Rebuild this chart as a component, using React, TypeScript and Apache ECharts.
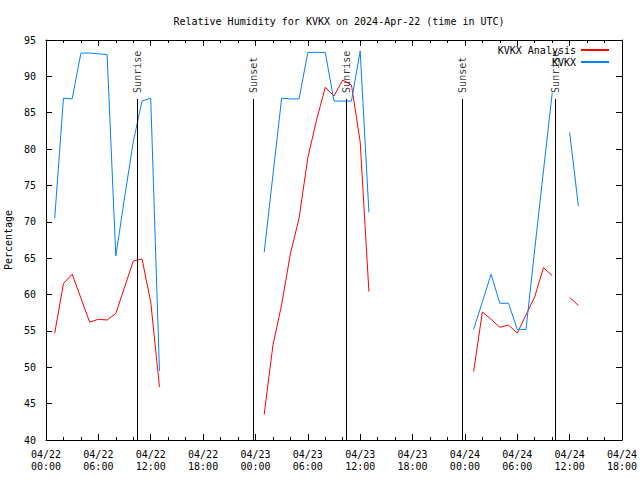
import React, { useEffect, useRef } from "react";
import * as echarts from "echarts";

// Hours after 2024-04-22 00:00 UTC at which each data segment starts
const segmentStarts = [1, 25, 49, 60];

const analysisSegments = [
  [54.7, 61.5, 62.8, 59.5, 56.2, 56.6, 56.5, 57.4, 61.0, 64.6, 64.9, 59.0, 47.3],
  [43.5, 53.0, 58.6, 65.6, 70.5, 78.8, 84.0, 88.5, 87.3, 89.5, 88.8, 81.0, 60.4],
  [49.4, 57.6, 56.6, 55.5, 55.8, 54.7, 57.2, 59.7, 63.7, 62.6],
  [59.6, 58.5],
];

const observedSegments = [
  [70.5, 87.0, 86.9, 93.2, 93.2, 93.1, 93.0, 65.3, 73.3, 81.0, 86.6, 87.0, 49.5],
  [65.8, 76.4, 87.0, 86.9, 86.9, 93.3, 93.3, 93.3, 86.6, 86.6, 86.6, 93.5, 71.3],
  [55.2, 59.0, 62.8, 58.8, 58.8, 55.2, 55.2, 66.2, 77.0, 87.7],
  [82.3, 72.2],
];

const eventNames = ["Sunrise", "Sunset", "Sunrise", "Sunset", "Sunrise"];
const eventHours = [10.43, 23.77, 34.44, 47.74, 58.4];
const eventTop = 86.9;

const tickDates = ["04/22", "04/22", "04/22", "04/22", "04/23", "04/23", "04/23", "04/23", "04/24", "04/24", "04/24", "04/24"];
const tickTimes = ["00:00", "06:00", "12:00", "18:00", "00:00", "06:00", "12:00", "18:00", "00:00", "06:00", "12:00", "18:00"];

const FONT = "DejaVu Sans Mono";

export default function App() {
  const ref = useRef<HTMLDivElement>(null);
  useEffect(() => {
    if (!ref.current) return;
    const chart = echarts.init(ref.current, undefined, { renderer: "svg" });

    const mkSeries = (name: string, segs: number[][], color: string) =>
      segs.map((seg, si) => ({
        name,
        type: "line",
        data: seg.map((v, i) => [segmentStarts[si] + i, v]),
        showSymbol: false,
        symbol: "none",
        lineStyle: { color, width: 1 },
        itemStyle: { color, opacity: 0 },
        silent: true,
        z: name === "KVKX" ? 3 : 2,
      }));

    const axisCommonX = {
      type: "value",
      min: 0,
      max: 66,
      interval: 6,
      axisLine: { show: true, onZero: false, lineStyle: { color: "#000", width: 1 } },
      axisTick: { show: true, inside: true, length: 6, lineStyle: { color: "#000" } },
      minorTick: { show: true, splitNumber: 3, length: 3, lineStyle: { color: "#000" } },
      splitLine: { show: false },
    };
    const axisCommonY = {
      type: "value",
      min: 40,
      max: 95,
      interval: 5,
      axisLine: { show: true, onZero: false, lineStyle: { color: "#000", width: 1 } },
      axisTick: { show: true, inside: true, length: 6, lineStyle: { color: "#000" } },
      splitLine: { show: false },
    };

    chart.setOption({
      animation: false,
      backgroundColor: "#fff",
      title: {
        text: "Relative Humidity for KVKX on 2024-Apr-22 (time in UTC)",
        left: 334,
        top: 11,
        textAlign: "center",
        textStyle: { fontFamily: FONT, fontSize: 10, fontWeight: "normal", color: "#000" },
      },
      legend: {
        orient: "vertical",
        right: 30,
        top: 44,
        align: "right",
        padding: 0,
        itemWidth: 28,
        itemHeight: 12,
        itemGap: 0,
        data: ["KVKX Analysis", "KVKX"],
        itemStyle: { opacity: 0 },
        textStyle: { fontFamily: FONT, fontSize: 10, color: "#000", lineHeight: 12 },
      },
      grid: { left: 46, right: 18, top: 40, bottom: 40, containLabel: false, outerBoundsMode: "none" },
      xAxis: [
        {
          ...axisCommonX,
          position: "bottom",
          axisLabel: {
            margin: 8,
            fontFamily: FONT,
            fontSize: 10,
            lineHeight: 12,
            color: "#000",
            formatter: (v: number) => {
              const i = Math.round(v / 6);
              return `${tickDates[i]}\n${tickTimes[i]}`;
            },
          },
        },
        { ...axisCommonX, position: "top", axisLabel: { show: false } },
      ],
      yAxis: [
        {
          ...axisCommonY,
          position: "left",
          name: "Percentage",
          nameLocation: "middle",
          nameGap: 30,
          nameTextStyle: { fontFamily: FONT, fontSize: 10, color: "#000" },
          axisLabel: { margin: 10, fontFamily: FONT, fontSize: 10, color: "#000" },
        },
        { ...axisCommonY, position: "right", axisLabel: { show: false } },
      ],
      series: [
        ...mkSeries("KVKX Analysis", analysisSegments, "#ff0000"),
        ...mkSeries("KVKX", observedSegments, "#0080ff"),
        {
          name: "events",
          type: "scatter",
          symbolSize: 0,
          silent: true,
          data: eventHours.map((h, i) => ({ value: [h, eventTop], name: eventNames[i] })),
          label: {
            show: true,
            position: "top",
            distance: 6,
            rotate: 90,
            align: "left",
            verticalAlign: "middle",
            formatter: (p: any) => p.name,
            fontFamily: FONT,
            fontSize: 10,
            color: "#000",
          },
          markLine: {
            silent: true,
            symbol: "none",
            label: { show: false },
            lineStyle: { color: "#000", type: "solid", width: 1 },
            data: eventHours.map((h) => [{ coord: [h, 40] }, { coord: [h, eventTop] }]),
          },
          z: 1,
        },
      ],
    } as any);
    return () => chart.dispose();
  }, []);
  return <div ref={ref} style={{ width: 640, height: 480, position: "absolute", left: 0, top: 0 }} />;
}
